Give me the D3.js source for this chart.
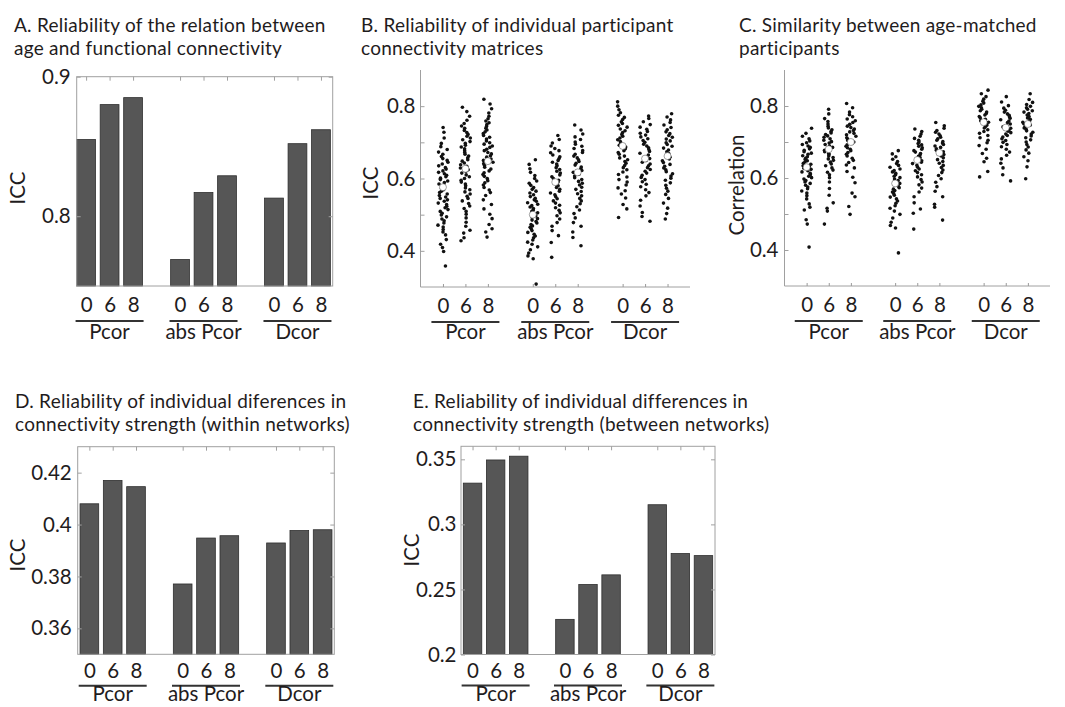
<!DOCTYPE html>
<html lang="en">
<head>
<meta charset="utf-8">
<script src="https://d3js.org/d3.v7.min.js"></script>
<style>
  body { margin: 0; background: #fff; }
  text { font-family: Lato, "Open Sans", sans-serif; fill: #1f1c1d; }
  .title { font-size: 19px; letter-spacing: 0.25px; }
  .tick text { font-size: 20.5px; fill: #1f1c1d; font-family: Lato, "Open Sans", sans-serif; }
  .ylab, .glab { font-size: 20.5px; }
</style>
</head>
<body>
<svg width="1065" height="707"></svg>
<script>

// ---- data ----
var condLabels = ["0", "6", "8"];
var groupLabels = ["Pcor", "abs Pcor", "Dcor"];

// A. ICC of age / connectivity relation
var iccAgeFC = [0.855, 0.880, 0.885, 0.769, 0.817, 0.829, 0.813, 0.852, 0.862];
// D. ICC of strength, within networks
var iccWithin = [0.408, 0.417, 0.4146, 0.3771, 0.3948, 0.3957, 0.3929, 0.3977, 0.398];
// E. ICC of strength, between networks
var iccBetween = [0.3317, 0.3495, 0.3524, 0.227, 0.2538, 0.2612, 0.3151, 0.2776, 0.276];

var yTicksA = [0.8, 0.9];
var yTicksBC = [0.4, 0.6, 0.8];
var yMinorBC = [0.5, 0.7];
var yTicksD = [0.36, 0.38, 0.4, 0.42];
var yTicksE = [0.2, 0.25, 0.3, 0.35];

// B. per-participant ICC (one value per participant, estimated)
var bPcor0 = [.358,.398,.409,.418,.431,.444,.452,.459,.466,.471,.477,.483,.488,.494,.499,.504,.509,.514,.519,.523,.528,.532,.537,.541,.545,.549,.553,.557,.561,.565,.569,.573,.577,.581,.585,.589,.593,.597,.601,.605,.609,.613,.617,.621,.626,.630,.635,.640,.645,.650,.655,.661,.667,.673,.680,.688,.697,.712,.728,.741];
var bPcor6 = [.428,.436,.449,.457,.468,.479,.491,.501,.509,.517,.524,.531,.538,.545,.551,.557,.563,.569,.574,.580,.585,.590,.595,.600,.605,.610,.615,.620,.624,.629,.634,.638,.643,.648,.652,.657,.662,.667,.672,.677,.682,.687,.692,.697,.702,.707,.712,.717,.722,.727,.733,.739,.745,.752,.761,.772,.785,.797];
var bPcor8 = [.438,.452,.461,.473,.489,.501,.516,.528,.541,.553,.561,.568,.575,.582,.588,.594,.600,.606,.611,.616,.621,.626,.631,.636,.641,.645,.650,.654,.659,.663,.668,.672,.677,.681,.686,.690,.695,.699,.704,.709,.714,.719,.724,.729,.734,.739,.744,.749,.754,.759,.765,.772,.781,.793,.806,.819];
var bAbs0 = [.308,.378,.386,.394,.403,.411,.418,.424,.430,.436,.441,.446,.451,.456,.461,.465,.469,.473,.477,.481,.485,.489,.493,.497,.501,.505,.509,.513,.517,.521,.525,.529,.533,.537,.541,.545,.550,.555,.560,.565,.570,.575,.581,.587,.593,.600,.608,.617,.627,.639,.652];
var bAbs6 = [.382,.423,.442,.456,.468,.478,.488,.497,.505,.512,.519,.526,.532,.538,.544,.550,.555,.560,.565,.570,.575,.580,.585,.590,.595,.600,.605,.610,.615,.620,.625,.630,.635,.640,.645,.650,.655,.660,.665,.671,.677,.683,.690,.698,.708,.719];
var bAbs8 = [.414,.437,.452,.468,.478,.491,.503,.513,.522,.530,.538,.545,.552,.558,.564,.570,.576,.582,.587,.592,.597,.602,.607,.612,.617,.622,.627,.632,.637,.642,.647,.652,.657,.662,.667,.672,.677,.683,.689,.695,.701,.708,.715,.723,.734,.748];
var bDcor0 = [.492,.516,.528,.546,.557,.566,.574,.582,.590,.597,.604,.611,.618,.624,.630,.636,.642,.647,.652,.657,.662,.667,.672,.677,.682,.687,.692,.697,.702,.707,.712,.717,.722,.727,.732,.737,.742,.747,.752,.757,.763,.769,.775,.782,.790,.800,.812];
var bDcor6 = [.482,.495,.506,.524,.540,.552,.561,.569,.577,.584,.591,.597,.603,.609,.615,.620,.625,.630,.635,.640,.645,.650,.655,.660,.665,.670,.675,.680,.685,.690,.695,.700,.705,.710,.715,.720,.725,.730,.736,.742,.749,.757,.766,.773];
var bDcor8 = [.488,.503,.518,.532,.545,.556,.565,.573,.581,.588,.595,.601,.607,.613,.619,.624,.629,.634,.639,.644,.649,.654,.659,.664,.669,.674,.679,.684,.689,.694,.699,.704,.709,.714,.719,.724,.729,.735,.741,.748,.755,.762,.770,.779];
var meansB = [0.576, 0.627, 0.648, 0.500, 0.590, 0.617, 0.690, 0.655, 0.662];

// C. similarity between age-matched participants (estimated)
var cPcor0 = [.408,.472,.484,.511,.519,.528,.542,.551,.558,.564,.570,.575,.580,.585,.589,.593,.597,.601,.605,.609,.613,.617,.620,.624,.627,.631,.634,.638,.641,.645,.648,.652,.655,.659,.662,.666,.669,.673,.677,.681,.685,.689,.693,.698,.703,.709,.716,.724,.738];
var cPcor6 = [.472,.508,.516,.531,.552,.571,.589,.601,.609,.616,.622,.628,.634,.639,.644,.649,.653,.657,.661,.665,.669,.673,.677,.681,.685,.689,.693,.697,.701,.705,.709,.713,.717,.721,.725,.729,.734,.739,.744,.750,.757,.765,.778,.791];
var cPcor8 = [.499,.521,.548,.558,.587,.602,.618,.628,.636,.643,.649,.655,.661,.666,.671,.676,.680,.684,.688,.692,.696,.700,.704,.708,.712,.716,.720,.724,.728,.732,.736,.740,.744,.749,.754,.759,.764,.770,.776,.783,.795,.807];
var cAbs0 = [.392,.461,.468,.477,.489,.499,.508,.516,.523,.530,.536,.542,.547,.552,.557,.561,.565,.569,.573,.577,.581,.585,.589,.593,.597,.601,.605,.609,.613,.617,.621,.625,.630,.635,.640,.646,.652,.659,.667,.676];
var cAbs6 = [.458,.502,.514,.531,.548,.561,.572,.581,.589,.596,.603,.609,.615,.620,.625,.630,.635,.640,.644,.648,.652,.656,.660,.664,.668,.672,.676,.680,.684,.688,.692,.696,.700,.705,.710,.716,.722,.729,.736];
var cAbs8 = [.483,.519,.527,.548,.563,.576,.588,.598,.607,.615,.622,.629,.635,.641,.646,.651,.656,.661,.665,.669,.673,.677,.681,.685,.689,.693,.697,.701,.705,.709,.713,.717,.722,.727,.732,.738,.745,.754];
var cDcor0 = [.603,.618,.645,.655,.668,.680,.690,.698,.705,.712,.718,.724,.729,.734,.739,.743,.747,.751,.755,.759,.763,.767,.771,.775,.779,.783,.787,.791,.795,.799,.803,.808,.813,.819,.826,.834,.844];
var cDcor6 = [.592,.609,.628,.641,.653,.663,.672,.680,.687,.693,.699,.704,.709,.714,.718,.722,.726,.730,.734,.738,.742,.746,.750,.754,.758,.762,.766,.770,.774,.778,.783,.788,.794,.801,.811,.826];
var cDcor8 = [.598,.631,.648,.659,.669,.678,.686,.693,.700,.706,.712,.717,.722,.727,.731,.735,.739,.743,.747,.751,.755,.759,.763,.767,.771,.775,.779,.783,.787,.791,.795,.799,.804,.810,.818,.834];
var meansC = [0.630, 0.680, 0.700, 0.585, 0.650, 0.670, 0.755, 0.740, 0.750];

// ---- drawing ----
var svg = d3.select("svg");

// bar/column slot: groups of three, one empty slot between groups
function slot(i) { return Math.floor(i / 3) * 4 + (i % 3) + 1; }
var slots = d3.range(9).map(slot);

// fixed sideways scatter for the dot columns (layout only)
function jitter(i, c) {
    var s = Math.sin((i + 1) * 12.9898 + (c + 1) * 78.233) * 43758.5453;
    return s - Math.floor(s) - 0.5;
}

function title(x, y, lines) {
    lines.forEach(function(s, i) {
        svg.append("text").attr("class", "title").attr("x", x).attr("y", y + i * 23).text(s);
    });
}

function groupAxis(g, x, p) {
    // 0 6 8 labels
    g.append("g")
        .attr("transform", "translate(0," + p.bottom + ")")
        .call(d3.axisBottom(x).tickValues(slots).tickSize(p.xTick).tickPadding(p.xPad)
            .tickFormat(function(d, i) { return condLabels[i % 3]; }))
        .call(function(a) { a.select(".domain").remove(); a.selectAll("line").attr("stroke", "#9a9a9a"); });
    // underline + group name
    var gg = g.selectAll("g.grp").data(groupLabels).join("g").attr("class", "grp")
        .attr("transform", function(d, i) { return "translate(" + x(i * 4 + 2) + "," + p.bottom + ")"; });
    gg.append("line").attr("x1", -34).attr("x2", 34).attr("y1", p.lineDy).attr("y2", p.lineDy)
        .attr("stroke", "#333").attr("stroke-width", 2);
    gg.append("text").attr("class", "glab").attr("text-anchor", "middle").attr("y", p.labDy).text(function(d) { return d; });
}

function barPanel(p) {
    var x = d3.scaleLinear().domain(p.xDomain).range([p.left, p.right]);
    var y = d3.scaleLinear().domain(p.yDomain).range([p.bottom, p.top]);
    var g = svg.append("g");

    g.selectAll("rect.bar").data(p.values).join("rect").attr("class", "bar")
        .attr("x", function(d, i) { return x(slots[i] - 0.4); })
        .attr("width", x(0.8) - x(0))
        .attr("y", function(d) { return y(d); })
        .attr("height", function(d) { return y(p.yDomain[0]) - y(d); })
        .attr("fill", "#565656").attr("stroke", "#2e2e2e").attr("stroke-width", 0.8);

    g.append("rect").attr("x", p.left).attr("y", p.top)
        .attr("width", p.right - p.left).attr("height", p.bottom - p.top)
        .attr("fill", "none").attr("stroke", "#a0a0a0");

    g.append("g").attr("transform", "translate(" + p.left + ",0)")
        .call(d3.axisLeft(y).tickValues(p.yTicks).tickSize(-4).tickPadding(p.yPad).tickFormat(String))
        .call(function(a) { a.select(".domain").remove(); a.selectAll("line").attr("stroke", "#a0a0a0"); });
    g.append("g").attr("transform", "translate(" + p.right + ",0)")
        .call(d3.axisRight(y).tickValues(p.yTicks).tickSize(-4).tickFormat(""))
        .call(function(a) { a.select(".domain").remove(); a.selectAll("line").attr("stroke", "#a0a0a0"); });
    g.append("g").attr("transform", "translate(0," + p.top + ")")
        .call(d3.axisTop(x).tickValues(slots).tickSize(-4).tickFormat(""))
        .call(function(a) { a.select(".domain").remove(); a.selectAll("line").attr("stroke", "#a0a0a0"); });

    groupAxis(g, x, p);

    g.append("text").attr("class", "ylab").attr("text-anchor", "middle")
        .attr("transform", "translate(" + p.ylabX + "," + p.ylabY + ") rotate(-90)").text(p.ylab);
}

function scatterPanel(p) {
    var x = d3.scaleLinear().domain([0, 12]).range([p.left, p.right]);
    var y = d3.scaleLinear().domain([0.3, 0.9]).range([p.bottom, p.top]);
    var g = svg.append("g");

    g.append("g").attr("transform", "translate(" + p.left + ",0)")
        .call(d3.axisLeft(y).tickValues(yTicksBC).tickSize(-4).tickPadding(p.yPad).tickFormat(String))
        .call(function(a) { a.select(".domain").attr("stroke", "#a0a0a0").attr("d", "M0," + p.top + "V" + p.bottom); a.selectAll("line").attr("stroke", "#a0a0a0"); });
    g.append("g").attr("transform", "translate(" + p.left + ",0)")
        .call(d3.axisLeft(y).tickValues(yMinorBC).tickSize(-4).tickFormat(""))
        .call(function(a) { a.select(".domain").remove(); a.selectAll("line").attr("stroke", "#a0a0a0"); });
    g.append("line").attr("x1", p.left).attr("x2", p.right).attr("y1", p.bottom).attr("y2", p.bottom)
        .attr("stroke", "#a0a0a0");

    p.columns.forEach(function(vals, c) {
        g.append("g").selectAll("circle").data(vals).join("circle")
            .attr("cx", function(d, i) { return x(slots[c] + jitter(i, c) * 0.46); })
            .attr("cy", function(d) { return y(d); })
            .attr("r", 1.8).attr("fill", "#111");
    });
    g.selectAll("circle.mean").data(p.means).join("circle").attr("class", "mean")
        .attr("cx", function(d, i) { return x(slots[i]); })
        .attr("cy", function(d) { return y(d); })
        .attr("r", 3.5).attr("fill", "#fff").attr("stroke", "#444").attr("stroke-width", 0.5);

    groupAxis(g, x, p);

    g.append("text").attr("class", "ylab").attr("text-anchor", "middle")
        .attr("transform", "translate(" + p.ylabX + "," + p.ylabY + ") rotate(-90)").text(p.ylab);
}

title(14, 32, ["A. Reliability of the relation between", "age and functional connectivity"]);
title(361, 32, ["B. Reliability of individual participant", "connectivity matrices"]);
title(739, 32, ["C. Similarity between age-matched", "participants"]);
title(15, 408, ["D. Reliability of individual diferences in", "connectivity strength (within networks)"]);
title(413, 408, ["E. Reliability of individual differences in", "connectivity strength (between networks)"]);

barPanel({ values: iccAgeFC, xDomain: [0.6, 11.5], yDomain: [0.75, 0.9], yTicks: yTicksA,
    left: 76.7, right: 332.7, top: 76.7, bottom: 286, yPad: 6, xTick: 0, xPad: 11, lineDy: 35, labDy: 53,
    ylab: "ICC", ylabX: 25, ylabY: 188 });

scatterPanel({ columns: [bPcor0, bPcor6, bPcor8, bAbs0, bAbs6, bAbs8, bDcor0, bDcor6, bDcor8], means: meansB,
    left: 420.5, right: 690, top: 70, bottom: 287, yPad: 5, xTick: -3, xPad: 11, lineDy: 35, labDy: 52,
    ylab: "ICC", ylabX: 378, ylabY: 183 });

scatterPanel({ columns: [cPcor0, cPcor6, cPcor8, cAbs0, cAbs6, cAbs8, cDcor0, cDcor6, cDcor8], means: meansC,
    left: 784.5, right: 1050, top: 70, bottom: 286, yPad: 6, xTick: -3, xPad: 11.5, lineDy: 35, labDy: 53,
    ylab: "Correlation", ylabX: 744, ylabY: 185 });

barPanel({ values: iccWithin, xDomain: [0.5, 11.5], yDomain: [0.35, 0.43], yTicks: yTicksD,
    left: 77.7, right: 334.3, top: 446.7, bottom: 654.3, yPad: 6, xTick: 0, xPad: 9, lineDy: 31.5, labDy: 47,
    ylab: "ICC", ylabX: 25, ylabY: 555 });

barPanel({ values: iccBetween, xDomain: [0.5, 11.5], yDomain: [0.2, 0.36], yTicks: yTicksE,
    left: 461, right: 715, top: 446.3, bottom: 654.5, yPad: 4.5, xTick: 0, xPad: 8.5, lineDy: 31, labDy: 46.5,
    ylab: "ICC", ylabX: 419, ylabY: 550 });

</script>
</body>
</html>
